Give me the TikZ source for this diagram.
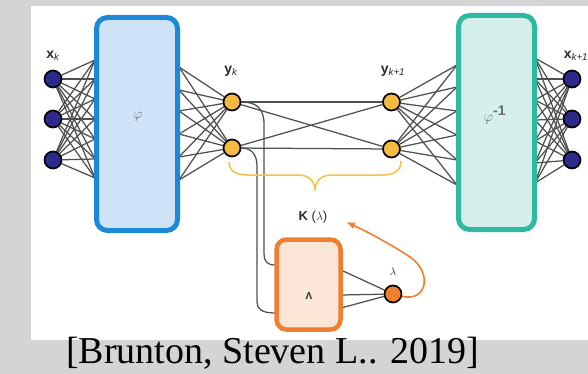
\documentclass[tikz,border=0pt]{standalone}
\usepackage{fontspec}
\setmainfont{Liberation Serif}
\setsansfont{Liberation Sans}
\usetikzlibrary{arrows.meta,calc}
\definecolor{bggray}{HTML}{D4D4D4}
\definecolor{netline}{HTML}{505050}
\definecolor{xfill}{HTML}{2E2A8C}
\definecolor{yfill}{HTML}{F6B941}
\definecolor{lamfill}{HTML}{EE8231}
\definecolor{phiedge}{HTML}{1E88D8}
\definecolor{phifill}{HTML}{CFE3F6}
\definecolor{invedge}{HTML}{2DB9A2}
\definecolor{invfill}{HTML}{D5EFEB}
\definecolor{opedge}{HTML}{EF7E31}
\definecolor{opfill}{HTML}{FBE5D7}
\definecolor{bracecol}{HTML}{F6C144}
\definecolor{labcol}{HTML}{2A2A2A}
\definecolor{symcol}{HTML}{6A6A6A}
\pgfdeclarelayer{back}
\pgfdeclarelayer{wires}
\pgfsetlayers{back,wires,main}
\begin{document}
\begin{tikzpicture}[x=1pt,y=-1pt,
  unit/.style={circle,draw=black,line width=1.7pt,minimum size=17pt,inner sep=0pt},
  xunit/.style={unit,fill=xfill},
  yunit/.style={unit,fill=yfill},
  lunit/.style={unit,fill=lamfill},
  mapbox/.style={rectangle,rounded corners=11pt,line width=5pt,inner sep=0pt},
  wire/.style={draw=netline,line width=1.25pt},
  lab/.style={text=labcol,font=\sffamily\fontsize{14}{14}\selectfont,inner sep=0pt},
  sym/.style={text=symcol,inner sep=0pt},
  feedback/.style={draw=opedge,line width=1.6pt,-{Latex[length=9pt,width=7pt]}},
]
\useasboundingbox (0,0) rectangle (588,374);

% backdrop and white panel
\begin{pgfonlayer}{back}
  \fill[bggray] (0,0) rectangle (588,374);
  \fill[white] (31,6) rectangle (588,340);
\end{pgfonlayer}

% encoder, decoder and operator blocks
\node[mapbox,draw=phiedge,fill=phifill,minimum width=81pt,minimum height=213pt] (phi) at (137,124) {};
\node[mapbox,draw=invedge,fill=invfill,minimum width=76pt,minimum height=214pt] (inv) at (496.5,122.5) {};
\node[mapbox,draw=opedge,fill=opfill,line width=4.5pt,rounded corners=10pt,minimum width=64pt,minimum height=90pt] (op) at (308.5,284.5) {};

\node[sym,font=\fontsize{14}{14}\selectfont] (phitxt) at (138,117) {$\varphi$};
\node[sym,font=\fontsize{14}{14}\selectfont] (invtxt) at (495,115) {$\varphi^{\textsf{\bfseries -1}}$};
\node[lab,font=\sffamily\bfseries\fontsize{10}{10}\selectfont] (optxt) at (309,296) {Λ};

% state units
\foreach \y [count=\i] in {79,119,160} {
  \node[xunit] (x\i) at (53,\y) {};
  \node[xunit] (xx\i) at (572,\y) {};
}
\node[yunit] (y1) at (232,102) {};
\node[yunit] (y2) at (232,148) {};
\node[yunit] (yy1) at (391.5,102) {};
\node[yunit] (yy2) at (391.5,149) {};
\node[lunit] (lam) at (393,294) {};

% labels
\node[lab] (xklab) at (53,56) {\textbf{x}\textsubscript{\itshape k}};
\node[lab] (yklab) at (231,71) {\textbf{y}\textsubscript{\itshape k}};
\node[lab] (yk1lab) at (393,71) {\textbf{y}\textsubscript{\itshape k+1}};
\node[lab] (xk1lab) at (576,56) {\textbf{x}\textsubscript{\itshape k+1}};
\node[lab,font=\sffamily\fontsize{13}{13}\selectfont] (klab) at (313,217) {\textbf{K} ($\lambda$)};
\node[sym,text=labcol,font=\fontsize{11}{11}\selectfont] (lamlab) at (393,272) {$\lambda$};

% attachment points on the block borders
\foreach \y [count=\j] in {60,79,99,119,139,159,178}
  \coordinate (pin\j) at (95,\y);
\foreach \y [count=\j] in {67,90,111,134,157,180}
  \coordinate (pout\j) at (179,\y);
\foreach \y [count=\j] in {65,87,111,135,160,185}
  \coordinate (qin\j) at (457,\y);
\foreach \y [count=\j] in {58,79,100,120,141,163,183}
  \coordinate (qout\j) at (535,\y);
\coordinate (opin1) at (275,265);
\coordinate (opin2) at (275,313);
\coordinate (opout1) at (341,270);
\coordinate (opout2) at (341,295);
\coordinate (opout3) at (341,308);
\coordinate (ktip) at (346,222);

\begin{pgfonlayer}{wires}
  \foreach \i in {1,2,3} \foreach \j in {1,...,7} {
    \draw[wire] (x\i) -- (pin\j);
    \draw[wire] (xx\i) -- (qout\j);
  }
  \foreach \i in {1,2} \foreach \j in {1,...,6} {
    \draw[wire] (y\i) -- (pout\j);
    \draw[wire] (yy\i) -- (qin\j);
  }
  \foreach \i in {1,2} \foreach \j in {1,2}
    \draw[wire] (y\i) -- (yy\j);
  % observables routed down into the operator block
  \draw[wire] (y1.east) .. controls (256,102) and (264,108) .. (264,124)
    -- (264,254) .. controls (264,261) and (267,265) .. (opin1);
  \draw[wire] (y2.east) .. controls (250,148) and (257,153) .. (257,166)
    -- (257,302) .. controls (257,309) and (262,313) .. (opin2);
  \foreach \j in {1,2,3}
    \draw[wire] (opout\j) -- (lam);
\end{pgfonlayer}

% brace spanning the observables
\draw[draw=bracecol,line width=1.5pt] (229,162) .. controls (229,171) and (236,175) .. (248,175)
  -- (298,175) .. controls (308,175) and (314,180) .. (315,189)
  .. controls (316,180) and (322,175) .. (332,175)
  -- (382,175) .. controls (394,175) and (401,171) .. (401,161);

% eigenvalue feedback
\draw[feedback] (lam.-15) .. controls (428,302) and (432,272) .. (410,257)
  .. controls (392,245) and (366,231) .. (ktip);

% citation
\node[anchor=base,inner sep=0pt,font=\fontsize{38}{40}\selectfont] (cite) at (272.5,363) {[Brunton, Steven L.. 2019]};
\end{tikzpicture}
\end{document}
